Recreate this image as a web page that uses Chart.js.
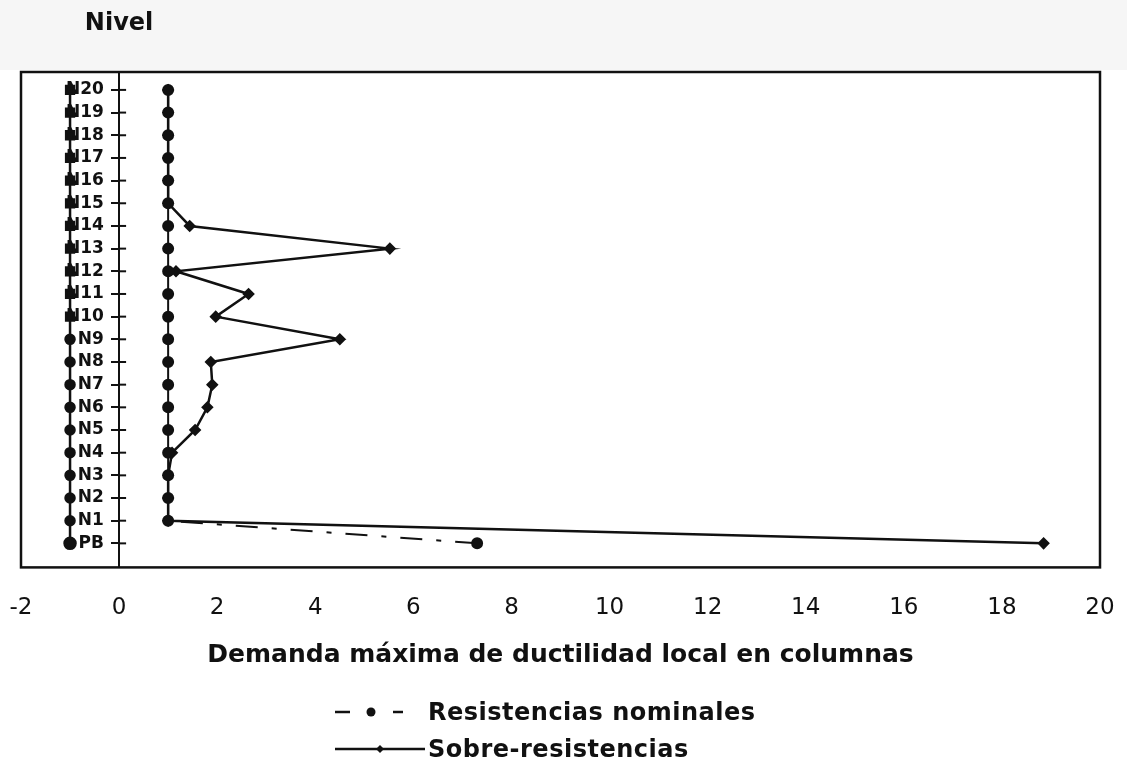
<!DOCTYPE html>
<html>
<head>
<meta charset="utf-8">
<script src="https://cdn.jsdelivr.net/npm/chart.js@4.4.0/dist/chart.umd.min.js"></script>
<style>
  body { margin: 0; background: linear-gradient(#f6f6f6 0, #f6f6f6 70px, #fff 70px); font-family: 'DejaVu Sans', sans-serif; }
  #wrap { position: relative; width: 1127px; height: 768px; }
  #legend { position: absolute; left: 335px; top: 693px; }
  .row { display: flex; align-items: center; height: 37px; font-weight: bold; font-size: 24px; letter-spacing: 0.5px; color: #111; }
  .row svg { margin-right: 3px; }
</style>
</head>
<body>
<div id="wrap">
  <canvas id="chart" width="1127" height="768"></canvas>
  <div id="legend"></div>
</div>
<script>
const levels = ['PB', 'N1', 'N2', 'N3', 'N4', 'N5', 'N6', 'N7', 'N8', 'N9', 'N10',
  'N11', 'N12', 'N13', 'N14', 'N15', 'N16', 'N17', 'N18', 'N19', 'N20'];
const nominales = [7.3, 1.0, 1.0, 1.0, 1.0, 1.0, 1.0, 1.0, 1.0, 1.0, 1.0,
  1.0, 1.0, 1.0, 1.0, 1.0, 1.0, 1.0, 1.0, 1.0, 1.0];
const sobre = [18.85, 1.0, 1.0, 1.0, 1.08, 1.55, 1.8, 1.9, 1.87, 4.5, 1.97,
  2.64, 1.16, 5.52, 1.44, 1.0, 1.0, 1.0, 1.0, 1.0, 1.0];
const guia = [-1, -1, -1, -1, -1, -1, -1, -1, -1, -1, -1,
  -1, -1, -1, -1, -1, -1, -1, -1, -1, -1];
const xTicks = [-2, 0, 2, 4, 6, 8, 10, 12, 14, 16, 18, 20];
const seriesNames = ['Resistencias nominales', 'Sobre-resistencias'];

const ink = '#111';
const yMin = -1.06;
const yMax = 20.79;

function toPoints(values) {
  return values.map((v, i) => ({ x: v, y: i }));
}

// frame around the plot + right half of the crossing tick marks + "Nivel"
const decor = {
  id: 'decor',
  beforeDatasetsDraw(chart) {
    const { ctx, chartArea: a, scales } = chart;
    ctx.save();
    ctx.strokeStyle = ink;
    ctx.lineWidth = 2.5;
    ctx.strokeRect(a.left, a.top, a.right - a.left, a.bottom - a.top);
    const x0 = scales.x.getPixelForValue(0);
    ctx.lineWidth = 2;
    scales.y.ticks.forEach(t => {
      const py = scales.y.getPixelForValue(t.value);
      ctx.beginPath();
      ctx.moveTo(x0, py);
      ctx.lineTo(x0 + 7, py);
      ctx.stroke();
    });
    ctx.restore();
  },
  afterDraw(chart) {
    const { ctx, scales } = chart;
    ctx.save();
    ctx.fillStyle = ink;
    ctx.font = 'bold 24px "DejaVu Sans"';
    ctx.textAlign = 'center';
    ctx.textBaseline = 'middle';
    ctx.fillText('Nivel', scales.x.getPixelForValue(0), 24);
    ctx.restore();
  }
};

const levelTicks = s => { s.ticks = levels.map((l, i) => ({ value: i })); };

const ctx = document.getElementById('chart').getContext('2d');

new Chart(ctx, {
  type: 'line',
  data: {
    datasets: [{
      label: seriesNames[0],
      data: toPoints(nominales),
      borderColor: ink,
      backgroundColor: ink,
      borderWidth: 2,
      pointStyle: 'circle',
      pointRadius: 5,
      segment: {
        borderDash: c => c.p0DataIndex === 0 ? [22, 14, 5, 14] : []
      }
    }, {
      label: seriesNames[1],
      data: toPoints(sobre),
      borderColor: ink,
      backgroundColor: ink,
      borderWidth: 2.5,
      pointStyle: 'rectRot',
      pointRadius: 4.5
    }, {
      label: 'guia',
      data: toPoints(guia),
      borderColor: ink,
      backgroundColor: ink,
      borderWidth: 2.5,
      pointStyle: guia.map((v, i) => i < 10 ? 'circle' : 'rect'),
      pointRadius: guia.map((v, i) => i === 0 ? 5.5 : (i < 10 ? 4.5 : 5.5))
    }]
  },
  options: {
    responsive: false,
    animation: false,
    showLine: true,
    layout: { padding: { left: 21, right: 27, top: 72, bottom: 98 } },
    plugins: {
      legend: { display: false },
      tooltip: { enabled: false }
    },
    scales: {
      x: {
        type: 'linear',
        min: xTicks[0],
        max: xTicks[xTicks.length - 1],
        afterBuildTicks: s => { s.ticks = xTicks.map(v => ({ value: v })); },
        // invisible tick marks only push the labels down
        grid: { display: true, drawOnChartArea: false, drawTicks: true, tickLength: 27, color: 'rgba(0,0,0,0)' },
        border: { display: false },
        ticks: {
          padding: 0,
          color: ink,
          font: { family: 'DejaVu Sans', size: 23 }
        },
        title: {
          display: true,
          text: 'Demanda máxima de ductilidad local en columnas',
          color: ink,
          font: { family: 'DejaVu Sans', size: 25, weight: 'bold' },
          padding: { top: 18, bottom: 0 }
        }
      },
      // axis line and tick marks at x = 0
      y: {
        type: 'linear',
        position: { x: 0 },
        min: yMin,
        max: yMax,
        afterBuildTicks: levelTicks,
        grid: { drawOnChartArea: false, drawTicks: true, tickLength: 7, color: ink, lineWidth: 2 },
        border: { display: true, color: ink, width: 2 },
        ticks: { display: false }
      },
      // level names, set a little left of the axis line
      yLabels: {
        type: 'linear',
        position: { x: -0.31 },
        min: yMin,
        max: yMax,
        afterBuildTicks: levelTicks,
        grid: { display: false },
        border: { display: false },
        ticks: {
          autoSkip: false,
          color: ink,
          font: { family: 'DejaVu Sans', size: 17, weight: 'bold' },
          callback: v => levels[v]
        }
      }
    }
  },
  plugins: [decor]
});

// legend rows: line + marker sample, then the series name
const icons = [
  '<svg width="90" height="20"><line x1="0" y1="10" x2="15" y2="10" stroke="#111" stroke-width="2.5"/>' +
  '<circle cx="36" cy="10" r="4.5" fill="#111"/>' +
  '<line x1="58" y1="10" x2="68" y2="10" stroke="#111" stroke-width="2.5"/></svg>',
  '<svg width="90" height="20"><line x1="0" y1="10" x2="90" y2="10" stroke="#111" stroke-width="2.5"/>' +
  '<polygon points="45,6 49,10 45,14 41,10" fill="#111"/></svg>'
];
document.getElementById('legend').innerHTML = seriesNames
  .map((name, i) => `<div class="row">${icons[i]}<span>${name}</span></div>`)
  .join('');
</script>
</body>
</html>
